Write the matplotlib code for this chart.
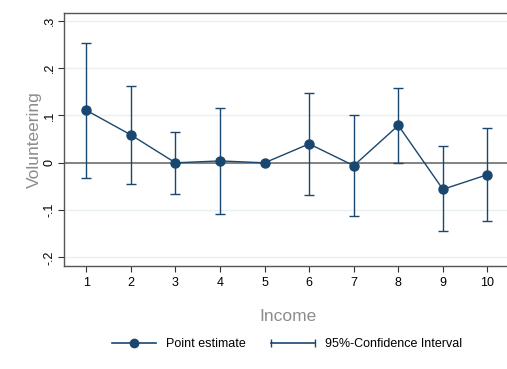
import numpy as np
import matplotlib
matplotlib.use("Agg")
import matplotlib.pyplot as plt
from matplotlib.lines import Line2D
from matplotlib.legend_handler import HandlerLine2D

plt.rcParams['font.family'] = ['Liberation Sans', 'DejaVu Sans']

# --- data ---
income = [1, 2, 3, 4, 5, 6, 7, 8, 9, 10]
estimate = [0.111, 0.059, 0.0, 0.004, 0.0, 0.040, -0.006, 0.079, -0.056, -0.025]
ci_low = [-0.033, -0.044, -0.065, -0.108, None, -0.067, -0.112, 0.0, -0.145, -0.122]
ci_high = [0.254, 0.163, 0.065, 0.115, None, 0.148, 0.101, 0.159, 0.035, 0.074]
yticks = [-0.2, -0.1, 0.0, 0.1, 0.2, 0.3]
ytick_labels = ['-.2', '-.1', '0', '.1', '.2', '.3']

navy = '#1a476f'
grid_c = '#e8f0f0'
label_c = '#8c8c8c'

fig = plt.figure(figsize=(5.07, 3.69), dpi=100)
ax = fig.add_axes([64 / 507, 1 - 266 / 369, (512 - 64) / 507, (266 - 13) / 369])

# confidence intervals (skip the reference category)
ci_x = [x for x, lo in zip(income, ci_low) if lo is not None]
ci_lo = np.array([lo for lo in ci_low if lo is not None])
ci_hi = np.array([hi for hi in ci_high if hi is not None])
ci_mid = (ci_lo + ci_hi) / 2
ax.errorbar(ci_x, ci_mid, yerr=[ci_mid - ci_lo, ci_hi - ci_mid], fmt='none',
            ecolor=navy, elinewidth=1.0, capsize=3.5, capthick=1.0, zorder=3)

ax.axhline(0, color='#7a7a7a', lw=1.3, zorder=2)
ax.plot(income, estimate, color=navy, lw=1.0, marker='o', markersize=6.5, zorder=4)

ax.set_xlim(0.5, 10.55)
ax.set_ylim(-0.218, 0.3165)
ax.set_xticks(income)
ax.set_xticklabels([str(i) for i in income], fontsize=9)
ax.set_yticks(yticks)
ax.set_yticklabels(ytick_labels, fontsize=9, rotation=90, va='center')
ax.yaxis.grid(True, color=grid_c, lw=1.0)
ax.set_axisbelow(True)
ax.tick_params(axis='x', length=4, width=0.8, color='#333333', pad=4)
ax.tick_params(axis='y', length=4, width=0.8, color='#333333', pad=2)

for s in ['left', 'bottom', 'top']:
    ax.spines[s].set_color('#555555')
    ax.spines[s].set_linewidth(1.0)
ax.spines['right'].set_visible(False)

ax.set_ylabel('Volunteering', fontsize=12.5, color=label_c, labelpad=1)
ax.set_xlabel('Income', fontsize=12.5, color=label_c, labelpad=14)

pt_handle = Line2D([0], [0], color=navy, lw=1.2, marker='o', markersize=6)
ci_handle = Line2D([0], [0], color=navy, lw=1.2, marker='|', markersize=6)
fig.legend([pt_handle, ci_handle], ['Point estimate', '95%-Confidence Interval'],
           loc='center', bbox_to_anchor=(287 / 507, 1 - 344 / 369), ncol=2,
           frameon=False, fontsize=9, handlelength=3.5, columnspacing=2.0,
           handletextpad=0.8,
           handler_map={ci_handle: HandlerLine2D(numpoints=2, marker_pad=0)})

fig.savefig('out.png', dpi=100, facecolor='white')
